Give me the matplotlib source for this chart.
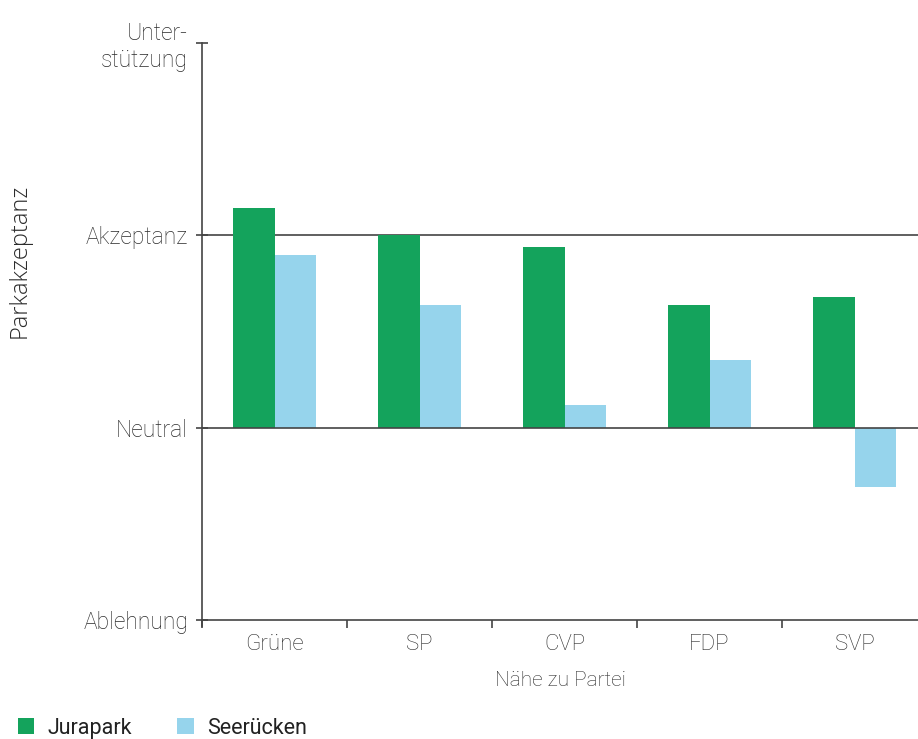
import matplotlib.pyplot as plt
import numpy as np

# Data (scale: -1 Ablehnung, 0 Neutral, 1 Akzeptanz, 2 Unterstützung)
parteien = ["Grüne", "SP", "CVP", "FDP", "SVP"]
jurapark = [1.14, 1.00, 0.94, 0.64, 0.68]
seeruecken = [0.90, 0.64, 0.12, 0.35, -0.31]
y_levels = [-1, 0, 1, 2]
y_labels = ["Ablehnung", "Neutral", "Akzeptanz", "Unter-\nstützung"]

GREEN = "#14a35c"
BLUE = "#96d4ec"
GREY = "#444444"
TEXT = "#2b2b2b"

plt.rcParams["font.family"] = ["Roboto", "DejaVu Sans"]
plt.rcParams["font.weight"] = "light"

fig = plt.figure(figsize=(9.18, 7.39), dpi=100)
W, H = 918, 739
x0, x1, y0, y1 = 202, 927, 43, 620
ax = fig.add_axes([x0 / W, 1 - y1 / H, (x1 - x0) / W, (y1 - y0) / H])

x = np.arange(len(parteien))
bw = 0.287
ax.bar(x - bw / 2, jurapark, width=bw, color=GREEN, zorder=2, label="Jurapark")
ax.bar(x + bw / 2, seeruecken, width=bw, color=BLUE, zorder=2, label="Seerücken")

ax.set_xlim(-0.5, len(parteien) - 0.5)
ax.set_ylim(-1, 2)

# gridlines at Neutral and Akzeptanz
for lv in [0, 1]:
    ax.axhline(lv, color=GREY, linewidth=1.2, zorder=1 if lv else 3)

for s in ["top", "right"]:
    ax.spines[s].set_visible(False)
for s in ["left", "bottom"]:
    ax.spines[s].set_color(GREY)
    ax.spines[s].set_linewidth(1.2)
ax.spines["left"].set_bounds(-1.03, 2)

ax.set_yticks(y_levels)
ax.set_yticklabels(y_labels, fontsize=16.5, color=TEXT, ha="right")
ax.tick_params(axis="y", direction="inout", length=8, width=1.2, color=GREY, pad=6)

ax.set_xticks(np.arange(len(parteien) + 1) - 0.5)
ax.set_xticklabels([])
ax.set_xticks(x, minor=True)
ax.set_xticklabels(parteien, minor=True, fontsize=16, color=TEXT)
ax.tick_params(axis="x", which="major", direction="out", length=6, width=1.2, color=GREY)
ax.tick_params(axis="x", which="minor", length=0, pad=10)

fig.text((x0 + x1) / 2 / W - 0.004, 1 - 681 / H, "Nähe zu Partei", ha="center", va="center",
         fontsize=15, color=TEXT)
fig.text(20 / W, 1 - 261 / H, "Parkakzeptanz", rotation=90, ha="center", va="center",
         fontsize=17, color=TEXT, family="Open Sans", fontweight="light")

leg = fig.legend(loc="lower left", bbox_to_anchor=(-0.002, -0.026), ncol=2, frameon=False,
                 prop={"family": "Roboto", "weight": "normal", "size": 15.5},
                 handlelength=0.75, handleheight=0.75, handletextpad=0.65,
                 columnspacing=2.1, labelcolor="#222222")

fig.savefig("out.png", dpi=100)
